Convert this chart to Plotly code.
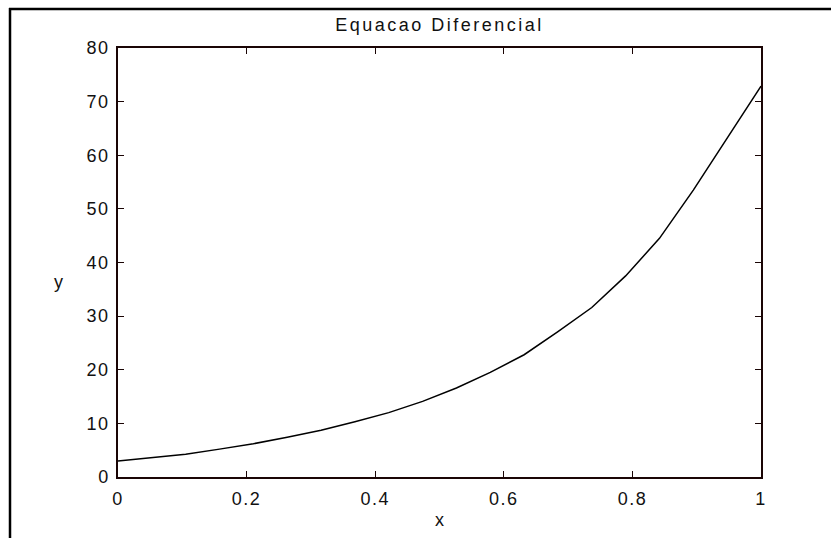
import numpy as np
import plotly.graph_objects as go

# Numerical solution of the ODE, 20 nodes on [0, 1]
x_vals = np.linspace(0, 1, 20)
y_vals = [3.0, 3.6, 4.25, 5.2, 6.2, 7.4, 8.7, 10.3, 12.0, 14.1,
          16.6, 19.5, 22.8, 27.1, 31.6, 37.5, 44.5, 53.5, 63.3, 72.9]

x_ticks = [0, 0.2, 0.4, 0.6, 0.8, 1]
x_tick_text = ["0", "0.2", "0.4", "0.6", "0.8", "1"]
y_ticks = [0, 10, 20, 30, 40, 50, 60, 70, 80]

W, H = 831, 538
L, R, T, B = 118, 761, 48, 477          # plot area in pixels
pw, ph = R - L, B - T

def px(xp):
    return (xp - L) / pw

def py(yp):
    return (B - yp) / ph

FONT = dict(family="Liberation Sans, Arial, sans-serif", size=18, color="#111111")
AXIS_COLOR = "#1a0505"

fig = go.Figure()
fig.add_trace(go.Scatter(x=x_vals, y=y_vals, mode="lines",
                         line=dict(color="#000000", width=1.5),
                         showlegend=False, hoverinfo="skip"))

axis_common = dict(showgrid=False, zeroline=False, showline=True, linecolor=AXIS_COLOR,
                   linewidth=1.5, mirror="ticks", ticks="inside", ticklen=6,
                   tickcolor=AXIS_COLOR, tickwidth=1, tickfont=FONT)

fig.update_xaxes(range=[0, 1], tickvals=x_ticks, ticktext=x_tick_text,
                 ticklabelstandoff=5, **axis_common)
fig.update_yaxes(range=[0, 80], tickvals=y_ticks, ticklabelstandoff=3, **axis_common)

fig.update_layout(
    width=W, height=H,
    margin=dict(l=L, r=W - R, t=T, b=H - B, pad=0),
    paper_bgcolor="white", plot_bgcolor="white",
    title=dict(text="Equacao Diferencial", font=FONT, x=0.5, xref="paper",
               xanchor="center", y=1 - 25 / H, yanchor="middle"),
    annotations=[
        dict(text="x", x=0.5, y=py(520), xref="paper", yref="paper",
             xanchor="center", yanchor="middle", showarrow=False, font=FONT),
        dict(text="y", x=px(58), y=py(282), xref="paper", yref="paper",
             xanchor="center", yanchor="middle", showarrow=False, font=FONT),
    ],
    shapes=[
        # outer figure frame (top and left edges)
        dict(type="line", xref="paper", yref="paper", x0=px(9), x1=px(W + 2),
             y0=py(9), y1=py(9), line=dict(color="#000000", width=2.5)),
        dict(type="line", xref="paper", yref="paper", x0=px(10), x1=px(10),
             y0=py(8), y1=py(H + 2), line=dict(color="#000000", width=2.5)),
    ],
)

# wider character spacing for all labels
spacing_js = """
document.querySelectorAll('.gtitle').forEach(function(e){
  e.style.letterSpacing = '2.5px';
});
document.querySelectorAll('.xtick text, .ytick text').forEach(function(e){
  e.style.letterSpacing = '1.5px';
});
"""

fig.write_html("out.html", post_script=spacing_js)
